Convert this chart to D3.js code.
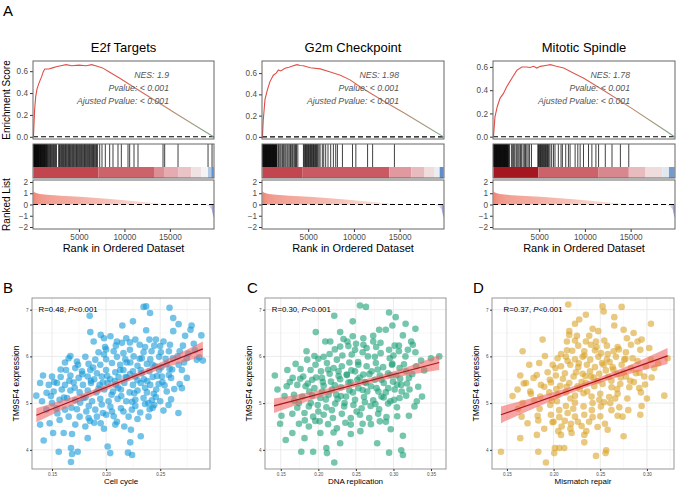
<!DOCTYPE html>
<html>
<head>
<meta charset="utf-8">
<script src="https://cdn.jsdelivr.net/npm/d3@7"></script>
<style>
  body { margin: 0; background: #fff; }
  text { font-family: "Liberation Sans", Arial, Helvetica, sans-serif; }
</style>
</head>
<body>
<svg id="fig" width="676" height="487"></svg>
<script>
// ---------- GSEA data (panel A) ----------
const gseaTitles = ["E2f Targets", "G2m Checkpoint", "Mitotic Spindle"];
const gseaNES = ["1.9", "1.98", "1.78"];
const gseaPvalue = ["< 0.001", "< 0.001", "< 0.001"];
const gseaPadj = ["< 0.001", "< 0.001", "< 0.001"];
const nGenes = 19800;
const rankTicks = [5000, 10000, 15000];
const esTicks = [0, 0.2, 0.4, 0.6];
const rlTicks = [-2, -1, 0, 1, 2];

// running enrichment score [rank, ES]
const esE2f = [[0,0],[60,0.12],[130,0.25],[250,0.37],[400,0.44],[650,0.5],[900,0.55],[1100,0.6],[1250,0.62],[1700,0.62],[2100,0.63],[2500,0.64],[3000,0.65],[3600,0.66],[4200,0.65],[5000,0.655],[5800,0.65],[6400,0.66],[7000,0.645],[7600,0.63],[8200,0.6],[9500,0.535],[11000,0.455],[13500,0.325],[16000,0.195],[18000,0.092],[19800,0]];
const esG2m = [[0,0],[80,0.15],[275,0.35],[530,0.44],[820,0.52],[1190,0.58],[1500,0.6],[1740,0.63],[2000,0.62],[2470,0.645],[2900,0.655],[3210,0.665],[3600,0.675],[3820,0.68],[4100,0.672],[4480,0.67],[5220,0.65],[6320,0.64],[7420,0.61],[8520,0.58],[9620,0.534],[10710,0.47],[13000,0.35],[15500,0.225],[17800,0.105],[19800,0]];
const esMit = [[0,0],[165,0.17],[420,0.26],[715,0.33],[1080,0.37],[1450,0.43],[2000,0.5],[2550,0.57],[3100,0.6],[3650,0.6],[4000,0.595],[4380,0.605],[4750,0.59],[5115,0.605],[5850,0.615],[6215,0.62],[6765,0.608],[7680,0.59],[8780,0.546],[9880,0.503],[12500,0.375],[15000,0.25],[17500,0.12],[19800,0]];

// gene-set hit ranks
const hitsE2f = [10,45,80,120,150,190,230,260,300,340,380,410,450,490,530,570,600,640,690,730,770,810,850,900,940,980,1030,1070,1120,1160,1210,1250,1300,1350,1400,1450,1500,1560,1640,1720,1790,1880,1950,2030,2120,2190,2280,2360,2440,2530,2770,2860,2940,3030,3110,3180,3280,3350,3440,3530,3610,3700,3790,3870,3960,4050,4130,4220,4310,4390,4480,4570,4660,4740,4830,4920,5010,5090,5190,5270,5360,5450,5540,5620,5710,5800,5890,5970,6070,6150,6240,6330,6410,6500,6600,6680,6770,6860,6940,7050,7282,7535,7902,8378,8745,9295,9662,10395,10578,11055,11495,14245,14428,15895,19195,19635];
const hitsG2m = [10,50,90,130,170,210,250,290,330,370,410,450,490,530,570,610,650,690,730,770,810,850,890,930,970,1010,1050,1090,1130,1170,1210,1250,1290,1330,1370,1410,1450,1490,1530,1570,1700,1778,1900,2010,2145,2230,2328,2450,2560,2695,2800,2930,3062,3150,3280,3428,3530,3622,3722,3868,4480,4560,4640,4712,4800,4870,4950,5030,5110,5190,5262,5350,5420,5500,5580,5660,5740,5812,5900,5980,6060,6178,6300,6545,6700,6912,7168,7462,7755,8012,8195,8745,9845,10212,11495,12045,14428];
const hitsMit = [10,50,90,130,170,210,250,290,330,370,410,450,490,530,570,610,650,690,730,770,810,850,890,930,970,1010,1050,1090,1130,1170,1210,1250,1290,1330,1370,1410,1450,1490,1530,1570,1620,1680,1740,1962,2100,2210,2328,2480,2580,2695,2810,2952,3080,3245,3380,3502,3650,3795,3950,4162,4850,4930,5010,5078,5150,5230,5300,5380,5445,5520,5600,5680,5750,5830,5900,5980,6060,6178,6362,6560,6728,7095,7388,7535,7902,8195,8378,8928,9222,9478,9845,10395,10762,11202,11495,12228,12962,13878,14795];

// colour band under the hits: [start rank, mean ranked value]
const bandE2f = [[0,1.0],[7150,0.85],[13330,0.6],[14430,0.45],[15900,0.3],[17360,0.12],[18460,0.0],[19190,-0.35],[19560,-0.8]];
const bandG2m = [[0,1.0],[4400,0.9],[13878,0.55],[16262,0.35],[17728,0.15],[18828,-0.05],[19378,-0.8]];
const bandMit = [[0,1.4],[4900,0.85],[11500,0.65],[14800,0.35],[16630,0.15],[18460,-0.1],[19190,-0.7]];

// ranked list metric [rank, value]
const rankedList = [[0,1.2],[100,1.1],[300,1.02],[700,0.94],[1500,0.86],[3000,0.77],[5100,0.68],[7000,0.57],[8400,0.49],[10000,0.37],[11700,0.25],[13000,0.15],[14500,0.07],[16000,0.03],[17500,0.0],[18800,-0.05],[19300,-0.15],[19600,-0.45],[19800,-1.2]];

// ---------- correlation data (panels B-D) ----------
const scatterLetters = ["B", "C", "D"];
const scatterXLabels = ["Cell cycle", "DNA replication", "Mismatch repair"];
const scatterR = ["0.48", "0.30", "0.37"];
const scatterXTicks = [[0.15,0.20,0.25],[0.15,0.20,0.25,0.30,0.35],[0.15,0.20,0.25,0.30]];
const scatterXDomains = [[0.1315,0.296],[0.129,0.37],[0.134,0.329]];
const scatterYTicks = [4, 5, 6, 7];

const cellCycle = [[0.2346,7.06],[0.237,7.07],[0.2406,6.93],[0.2586,7.04],[0.1848,6.87],[0.262,6.82],[0.267,6.69],[0.279,6.66],[0.2248,6.75],[0.215,6.66],[0.237,6.56],[0.1854,6.52],[0.262,6.54],[0.278,6.57],[0.273,6.44],[0.288,6.45],[0.195,6.46],[0.198,6.39],[0.204,6.43],[0.21,6.32],[0.2186,6.39],[0.227,6.36],[0.24,6.36],[0.246,6.36],[0.253,6.32],[0.1885,6.32],[0.2146,6.29],[0.231,6.25],[0.2445,6.23],[0.259,6.25],[0.271,6.23],[0.281,6.27],[0.199,6.2],[0.207,6.11],[0.222,6.14],[0.193,6.09],[0.198,6.04],[0.216,6.07],[0.2346,6.09],[0.242,6.11],[0.2506,6.09],[0.258,6.11],[0.268,6.11],[0.167,6.01],[0.1654,5.96],[0.1808,5.99],[0.19,5.93],[0.2,5.94],[0.21,5.99],[0.2177,5.94],[0.2254,6.0],[0.233,5.96],[0.2408,5.94],[0.249,5.99],[0.2617,5.96],[0.2746,5.96],[0.2838,5.93],[0.2894,5.91],[0.162,5.87],[0.173,5.89],[0.1838,5.84],[0.1946,5.82],[0.2054,5.86],[0.213,5.82],[0.2223,5.87],[0.229,5.8],[0.2377,5.84],[0.2454,5.79],[0.256,5.84],[0.267,5.82],[0.163,5.71],[0.1715,5.75],[0.1777,5.68],[0.1854,5.71],[0.1915,5.64],[0.2,5.71],[0.2085,5.66],[0.216,5.71],[0.2248,5.68],[0.232,5.71],[0.24,5.68],[0.249,5.71],[0.2586,5.73],[0.27,5.71],[0.2746,5.54],[0.1417,5.59],[0.15,5.57],[0.158,5.56],[0.167,5.59],[0.1746,5.54],[0.183,5.57],[0.189,5.51],[0.196,5.57],[0.2038,5.51],[0.2115,5.56],[0.219,5.54],[0.227,5.57],[0.235,5.51],[0.243,5.56],[0.2515,5.57],[0.26,5.54],[0.139,5.43],[0.147,5.39],[0.1546,5.43],[0.162,5.39],[0.17,5.44],[0.1786,5.39],[0.186,5.43],[0.194,5.39],[0.2014,5.43],[0.209,5.39],[0.2168,5.43],[0.2248,5.39],[0.232,5.43],[0.2408,5.39],[0.2485,5.41],[0.27,5.32],[0.1355,5.16],[0.1515,5.25],[0.159,5.29],[0.167,5.27],[0.1755,5.23],[0.183,5.27],[0.191,5.23],[0.1983,5.29],[0.2063,5.25],[0.2137,5.29],[0.2217,5.23],[0.229,5.27],[0.2377,5.23],[0.2463,5.29],[0.256,5.25],[0.1408,5.04],[0.15,5.0],[0.157,5.07],[0.1638,5.11],[0.1715,5.06],[0.179,5.11],[0.187,5.04],[0.1946,5.09],[0.2023,5.04],[0.2106,5.09],[0.2186,5.04],[0.227,5.07],[0.2346,5.11],[0.2423,5.06],[0.25,5.04],[0.2577,4.96],[0.268,5.41],[0.1448,4.86],[0.154,4.89],[0.162,4.86],[0.173,4.87],[0.1817,4.82],[0.19,4.86],[0.197,4.79],[0.2054,4.82],[0.2137,4.89],[0.2238,4.86],[0.2315,4.8],[0.2402,4.87],[0.2445,4.96],[0.2668,4.79],[0.139,4.54],[0.1478,4.57],[0.157,4.64],[0.1654,4.71],[0.1755,4.71],[0.1838,4.68],[0.1915,4.71],[0.2,4.75],[0.2208,4.71],[0.229,4.66],[0.2392,4.71],[0.1715,4.54],[0.1808,4.5],[0.2085,4.54],[0.2168,4.5],[0.2229,4.43],[0.151,4.36],[0.1608,4.36],[0.1685,4.34],[0.183,4.25],[0.232,4.29],[0.1423,4.2],[0.2223,4.16],[0.1562,3.96],[0.1737,3.96],[0.1675,4.04],[0.1685,3.91],[0.2014,4.07],[0.2038,3.93],[0.2202,3.94],[0.224,3.89],[0.1675,3.74],
  [0.178,5.62],[0.186,5.48],[0.193,5.31],[0.201,5.58],[0.208,5.47],[0.214,5.15],[0.222,5.62],[0.229,5.49],[0.236,5.33],[0.243,5.82],[0.252,5.45],[0.261,5.72],[0.171,5.33],[0.176,5.01],[0.184,4.94],[0.196,4.97],[0.205,5.18],[0.213,5.71],[0.219,5.87],[0.226,5.21],[0.233,5.64],[0.239,5.0],[0.247,5.58],[0.255,5.95],[0.263,5.3],[0.166,5.48],[0.181,5.12],[0.188,5.76],[0.197,5.44],[0.204,4.92],[0.211,5.33],[0.218,5.56],[0.224,5.03],[0.231,5.95],[0.238,5.47],[0.244,5.2],[0.251,5.77],[0.258,5.6],[0.266,6.0],[0.174,5.82],[0.161,5.12],[0.168,4.9],[0.185,4.62],[0.195,4.57],[0.207,4.72],[0.216,4.82],[0.227,4.94],[0.236,4.98],[0.246,5.13],[0.254,5.38],[0.272,5.87],[0.276,6.06],[0.282,6.13],[0.286,5.98],[0.2,6.15],[0.209,6.23],[0.222,6.3],[0.236,6.2],[0.25,6.22],[0.158,5.72],[0.152,5.45],[0.145,5.22],[0.155,4.78],[0.149,5.15],[0.21,4.6],[0.198,4.45],[0.189,4.58],[0.243,4.9],[0.253,4.84],[0.26,5.08]];

const dnaReplication = [[0.2555,7.09],[0.2634,7.06],[0.2942,6.94],[0.2212,6.87],[0.303,6.84],[0.2458,6.75],[0.3162,6.7],[0.2986,6.66],[0.281,6.57],[0.2898,6.57],[0.1966,6.52],[0.2291,6.52],[0.3293,6.59],[0.2731,6.44],[0.2458,6.43],[0.3126,6.45],[0.2599,6.39],[0.2335,6.37],[0.2388,6.32],[0.2093,6.32],[0.2159,6.32],[0.2502,6.27],[0.2731,6.32],[0.2828,6.29],[0.3016,6.23],[0.3236,6.32],[0.3258,6.25],[0.2291,6.21],[0.2489,6.14],[0.2643,6.18],[0.2942,6.14],[0.3073,6.23],[0.1843,6.11],[0.1948,6.01],[0.2071,5.99],[0.2247,5.93],[0.2445,6.04],[0.259,6.09],[0.2753,5.99],[0.2951,5.96],[0.3073,6.11],[0.3192,6.14],[0.3293,6.09],[0.3368,5.91],[0.35,5.96],[0.361,6.0],[0.1698,5.84],[0.1852,5.93],[0.1962,5.82],[0.2115,5.86],[0.2203,5.75],[0.2313,5.79],[0.2414,5.87],[0.2533,5.82],[0.2643,5.79],[0.2766,5.86],[0.2863,5.77],[0.2986,5.84],[0.3082,5.75],[0.317,5.68],[0.3302,5.79],[0.1588,5.71],[0.1764,5.73],[0.1896,5.71],[0.2036,5.68],[0.2151,5.63],[0.2269,5.68],[0.2379,5.61],[0.2489,5.68],[0.2599,5.61],[0.2709,5.68],[0.2819,5.59],[0.2929,5.64],[0.3038,5.59],[0.3206,5.54],[0.1421,5.59],[0.1658,5.54],[0.1799,5.57],[0.1918,5.5],[0.2049,5.54],[0.2168,5.46],[0.2291,5.51],[0.2401,5.44],[0.252,5.5],[0.2634,5.43],[0.2753,5.5],[0.2871,5.43],[0.2994,5.46],[0.3104,5.39],[0.3214,5.29],[0.1579,5.36],[0.172,5.39],[0.183,5.36],[0.1948,5.32],[0.2071,5.37],[0.2181,5.29],[0.23,5.34],[0.2414,5.27],[0.2533,5.32],[0.2652,5.25],[0.2775,5.32],[0.2898,5.23],[0.3016,5.29],[0.317,5.16],[0.1456,5.29],[0.1676,5.18],[0.1786,5.14],[0.1918,5.16],[0.2027,5.11],[0.2137,5.18],[0.2256,5.09],[0.237,5.14],[0.2489,5.07],[0.2608,5.13],[0.2731,5.06],[0.2841,5.14],[0.2959,5.04],[0.3082,5.11],[0.3381,5.14],[0.1742,5.0],[0.1874,4.93],[0.1992,4.96],[0.2107,4.91],[0.2225,4.99],[0.2344,4.93],[0.2467,4.96],[0.2577,4.89],[0.2696,4.94],[0.281,4.87],[0.2929,4.99],[0.3047,4.91],[0.3311,5.04],[0.328,4.93],[0.1509,4.73],[0.1654,4.77],[0.1816,4.79],[0.1931,4.71],[0.2071,4.75],[0.2194,4.68],[0.2313,4.77],[0.2432,4.68],[0.2555,4.75],[0.2678,4.68],[0.2797,4.77],[0.2907,4.7],[0.3206,4.73],[0.1491,4.56],[0.1742,4.56],[0.1874,4.5],[0.2019,4.61],[0.2247,4.46],[0.2432,4.54],[0.259,4.56],[0.2819,4.61],[0.2964,4.44],[0.1654,4.36],[0.1816,4.25],[0.2027,4.36],[0.2203,4.37],[0.2432,4.34],[0.2784,4.14],[0.3126,4.3],[0.1566,4.21],[0.2291,4.14],[0.1773,3.96],[0.1931,3.96],[0.2107,4.04],[0.2115,3.93],[0.2942,3.94],[0.3104,3.99],[0.3126,3.89],[0.2212,3.73],
  [0.186,5.42],[0.197,5.55],[0.205,5.25],[0.213,5.72],[0.222,5.38],[0.23,5.15],[0.238,5.6],[0.246,5.23],[0.255,5.55],[0.262,5.02],[0.27,5.36],[0.279,5.72],[0.287,5.12],[0.296,5.6],[0.305,5.4],[0.314,5.83],[0.19,5.0],[0.2,4.82],[0.21,5.08],[0.218,4.85],[0.227,5.58],[0.235,5.0],[0.243,5.45],[0.251,4.82],[0.259,5.28],[0.268,5.62],[0.276,4.98],[0.284,5.5],[0.293,5.32],[0.301,5.07],[0.309,5.52],[0.318,5.42],[0.325,5.62],[0.333,5.35],[0.341,5.7],[0.176,5.52],[0.168,5.05],[0.182,4.63],[0.196,4.62],[0.213,4.55],[0.236,4.58],[0.256,4.4],[0.27,4.55],[0.29,4.6],[0.305,4.72],[0.2,5.95],[0.215,6.05],[0.232,6.02],[0.253,5.88],[0.266,6.0],[0.283,6.07],[0.3,6.02],[0.316,6.0],[0.222,6.15],[0.24,6.22],[0.26,6.25],[0.277,6.2],[0.162,5.45],[0.155,5.15],[0.172,4.9],[0.188,5.25],[0.206,5.45],[0.224,5.18],[0.244,5.7],[0.262,5.45],[0.28,5.25],[0.298,5.82],[0.311,5.25]];

const mismatchRepair = [[0.2157,7.11],[0.2525,7.07],[0.2536,6.96],[0.2729,7.06],[0.2346,6.89],[0.265,6.84],[0.3043,6.7],[0.2275,6.79],[0.2229,6.7],[0.2168,6.54],[0.2418,6.59],[0.2479,6.54],[0.265,6.66],[0.275,6.57],[0.2857,6.5],[0.2168,6.46],[0.225,6.44],[0.2382,6.44],[0.1882,6.36],[0.2143,6.32],[0.2229,6.34],[0.2346,6.32],[0.2454,6.32],[0.2543,6.34],[0.2786,6.39],[0.29,6.32],[0.2943,6.36],[0.2264,6.23],[0.24,6.25],[0.2571,6.23],[0.2686,6.2],[0.2829,6.25],[0.3025,6.18],[0.1668,6.11],[0.2143,6.13],[0.2329,6.11],[0.2443,6.13],[0.2507,6.07],[0.2643,6.11],[0.2775,6.09],[0.2929,6.14],[0.1907,6.01],[0.2043,5.96],[0.2132,5.99],[0.2229,5.94],[0.2311,5.99],[0.2393,5.93],[0.2479,5.99],[0.2571,5.94],[0.2668,5.99],[0.2757,5.93],[0.2846,5.96],[0.3043,5.93],[0.3221,5.96],[0.1739,5.82],[0.1846,5.86],[0.199,5.82],[0.2079,5.79],[0.2179,5.82],[0.2264,5.77],[0.2357,5.82],[0.2443,5.77],[0.2536,5.82],[0.2632,5.77],[0.2729,5.82],[0.2829,5.75],[0.2989,5.79],[0.3079,5.75],[0.1643,5.59],[0.1786,5.54],[0.1936,5.66],[0.2025,5.59],[0.2121,5.64],[0.2214,5.57],[0.2311,5.63],[0.24,5.57],[0.2489,5.63],[0.2586,5.56],[0.2679,5.63],[0.2775,5.57],[0.2882,5.64],[0.2971,5.57],[0.1704,5.43],[0.1864,5.39],[0.1971,5.44],[0.2071,5.37],[0.2168,5.43],[0.2257,5.36],[0.2346,5.43],[0.2436,5.36],[0.2525,5.41],[0.2621,5.34],[0.2714,5.41],[0.2811,5.34],[0.2918,5.32],[0.1614,5.29],[0.1757,5.2],[0.1857,5.14],[0.1954,5.23],[0.2043,5.18],[0.2132,5.23],[0.2229,5.16],[0.2321,5.21],[0.2407,5.14],[0.25,5.2],[0.2596,5.13],[0.2686,5.2],[0.2936,5.23],[0.3186,5.16],[0.1668,5.0],[0.1793,5.06],[0.1964,4.96],[0.2036,5.04],[0.2132,4.94],[0.2229,5.01],[0.2321,4.93],[0.2418,5.0],[0.2507,4.93],[0.2607,5.0],[0.2704,4.91],[0.2943,4.94],[0.1657,4.71],[0.1829,4.73],[0.1971,4.75],[0.2061,4.7],[0.215,4.79],[0.2229,4.71],[0.2329,4.75],[0.2418,4.7],[0.2686,4.73],[0.2739,4.71],[0.2929,4.75],[0.1721,4.57],[0.1836,4.63],[0.1989,4.59],[0.2086,4.5],[0.2186,4.56],[0.23,4.51],[0.2471,4.49],[0.255,4.56],[0.2579,4.43],[0.1643,4.25],[0.1821,4.32],[0.2079,4.32],[0.2193,4.36],[0.2329,4.32],[0.2329,4.16],[0.275,4.29],[0.1436,3.96],[0.1836,3.96],[0.2014,4.04],[0.2007,3.93],[0.2061,4.04],[0.2114,4.04],[0.2454,3.87],[0.2564,3.99],[0.2557,3.93],[0.1918,3.73],
  [0.196,5.5],[0.203,5.3],[0.21,5.52],[0.218,5.1],[0.224,5.66],[0.23,5.45],[0.236,5.25],[0.243,5.55],[0.249,5.07],[0.256,5.7],[0.262,5.48],[0.268,5.3],[0.275,5.66],[0.282,5.48],[0.19,5.35],[0.198,5.05],[0.206,4.85],[0.214,5.35],[0.221,4.88],[0.228,5.3],[0.234,5.58],[0.241,4.85],[0.247,5.47],[0.254,5.02],[0.26,5.88],[0.266,5.1],[0.272,5.55],[0.279,5.1],[0.286,5.45],[0.292,5.65],[0.298,5.4],[0.305,5.55],[0.312,5.85],[0.202,5.75],[0.215,5.9],[0.227,5.85],[0.239,5.68],[0.252,5.86],[0.264,5.72],[0.277,5.95],[0.29,5.9],[0.208,6.05],[0.22,6.12],[0.233,6.02],[0.246,6.2],[0.258,6.05],[0.27,6.15],[0.182,5.6],[0.175,5.25],[0.168,5.42],[0.185,4.88],[0.2,4.6],[0.212,4.62],[0.226,4.6],[0.238,4.6],[0.25,4.72],[0.262,4.85],[0.28,4.85],[0.3,5.1],[0.156,5.15],[0.162,4.88],[0.19,4.45],[0.205,4.4],[0.218,4.45],[0.235,4.4]];

// fitted line [x, y] ends and confidence band [x, lower, upper]
const fitB = [[0.1355,4.74],[0.2894,6.16]];
const fitC = [[0.141,4.94],[0.361,5.87]];
const fitD = [[0.1436,4.75],[0.3221,6.01]];
const ciB = [[0.1355,4.59,4.89],[0.17,4.97,5.14],[0.21,5.37,5.48],[0.25,5.72,5.87],[0.2894,6.0,6.32]];
const ciC = [[0.141,4.79,5.1],[0.19,5.06,5.24],[0.25,5.35,5.46],[0.31,5.57,5.73],[0.361,5.71,6.03]];
const ciD = [[0.1436,4.57,4.93],[0.19,4.98,5.18],[0.235,5.34,5.45],[0.28,5.62,5.8],[0.3221,5.84,6.18]];

// ---------- drawing ----------
const svg = d3.select("#fig");
const defs = svg.append("defs");
const tickGrey = "#4d4d4d";

svg.append("text").attr("x", 3).attr("y", 16).attr("font-size", 15).text("A");

const esTop = 61, esBot = 139, hitTop = 144, hitBot = 178, bandTop = 167, rlTop = 180, rlBot = 229;
const gseaPanels = [
  {x0: 33, x1: 214, es: esE2f, hits: hitsE2f, band: bandE2f},
  {x0: 262, x1: 444, es: esG2m, hits: hitsG2m, band: bandG2m},
  {x0: 493, x1: 675, es: esMit, hits: hitsMit, band: bandMit}
];

const bandColor = d3.scaleLinear()
  .domain([-1, 0, 0.5, 1, 1.5])
  .range(["#3a75c0", "#f4f4f4", "#e3a3a8", "#c24650", "#9c0a14"]);
const rlColor = d3.scaleLinear()
  .domain([-1.2, 0, 1.2])
  .range(["#6a78c8", "#fdf0ec", "#ee7f6e"]);

function styleAxis(g, size) {
  g.select(".domain").remove();
  g.selectAll(".tick line").attr("stroke", "#333");
  g.selectAll(".tick text").attr("fill", tickGrey).attr("font-size", size)
    .attr("font-family", '"Liberation Sans", Arial, sans-serif');
}

gseaPanels.forEach((p, i) => {
  const g = svg.append("g");
  const x = d3.scaleLinear().domain([-50, nGenes + 50]).range([p.x0, p.x1]);
  const yEs = d3.scaleLinear().domain([-0.02, d3.max(p.es, d => d[1]) * 1.05]).range([esBot, esTop]);
  const yRl = d3.scaleLinear().domain([-2.18, 2.18]).range([rlBot, rlTop]);
  const cx = (p.x0 + p.x1) / 2;

  g.append("text").attr("x", cx).attr("y", 52).attr("text-anchor", "middle")
    .attr("font-size", 13).text(gseaTitles[i]);

  // running ES line, coloured from red to grey-green
  const gid = "esgrad" + i;
  const lg = defs.append("linearGradient").attr("id", gid)
    .attr("gradientUnits", "userSpaceOnUse")
    .attr("x1", p.x0).attr("x2", p.x1).attr("y1", 0).attr("y2", 0);
  [[0, "#e04b45"], [0.5, "#dc5a4e"], [0.72, "#c58067"], [0.88, "#a79a80"], [1, "#76a98c"]]
    .forEach(s => lg.append("stop").attr("offset", s[0]).attr("stop-color", s[1]));

  g.append("line").attr("x1", p.x0).attr("x2", p.x1).attr("y1", yEs(0)).attr("y2", yEs(0))
    .attr("stroke", "#000").attr("stroke-width", 1.1).attr("stroke-dasharray", "5,3");
  g.append("path").datum(p.es)
    .attr("d", d3.line().x(d => x(d[0])).y(d => yEs(d[1])))
    .attr("fill", "none").attr("stroke", `url(#${gid})`).attr("stroke-width", 1.1);

  const tx = p.x1 - 45;
  [["NES: " + gseaNES[i], 78], ["Pvalue: " + gseaPvalue[i], 91], ["Ajusted Pvalue: " + gseaPadj[i], 103.5]]
    .forEach(t => g.append("text").attr("x", tx).attr("y", t[1]).attr("text-anchor", "end")
      .attr("font-style", "italic").attr("font-size", 8.7).attr("fill", "#555").text(t[0]));

  g.append("g").attr("transform", `translate(${p.x0},0)`)
    .call(d3.axisLeft(yEs).tickValues(esTicks).tickSize(3).tickPadding(2).tickFormat(d3.format(".1f")))
    .call(a => styleAxis(a, 8.2));

  // hit lines and colour band
  g.selectAll("rect.band").data(p.band).join("rect")
    .attr("x", d => x(d[0]))
    .attr("width", (d, j) => x(j + 1 < p.band.length ? p.band[j + 1][0] : nGenes) - x(d[0]))
    .attr("y", bandTop).attr("height", hitBot - bandTop)
    .attr("fill", d => bandColor(d[1]));
  g.selectAll("line.hit").data(p.hits).join("line")
    .attr("x1", d => x(d)).attr("x2", d => x(d))
    .attr("y1", hitTop).attr("y2", bandTop)
    .attr("stroke", "#000").attr("stroke-width", 0.75);

  // ranked list
  const rid = "rlgrad" + i;
  const rg = defs.append("linearGradient").attr("id", rid)
    .attr("gradientUnits", "userSpaceOnUse")
    .attr("x1", x(0)).attr("x2", x(nGenes)).attr("y1", 0).attr("y2", 0);
  rankedList.forEach(d => rg.append("stop").attr("offset", d[0] / nGenes).attr("stop-color", rlColor(d[1])));
  g.append("path").datum(rankedList)
    .attr("d", d3.area().x(d => x(d[0])).y0(yRl(0)).y1(d => yRl(d[1])))
    .attr("fill", `url(#${rid})`);
  g.append("line").attr("x1", p.x0).attr("x2", p.x1).attr("y1", yRl(0)).attr("y2", yRl(0))
    .attr("stroke", "#000").attr("stroke-width", 1.1).attr("stroke-dasharray", "5,3");

  g.append("g").attr("transform", `translate(${p.x0},0)`)
    .call(d3.axisLeft(yRl).tickValues(rlTicks).tickSize(3).tickPadding(2).tickFormat(d3.format("d")))
    .call(a => styleAxis(a, 8.2));
  g.append("g").attr("transform", `translate(0,${rlBot})`)
    .call(d3.axisBottom(x).tickValues(rankTicks).tickSize(3).tickPadding(2).tickFormat(d3.format("d")))
    .call(a => styleAxis(a, 8.2));

  g.append("text").attr("x", cx).attr("y", 252).attr("text-anchor", "middle")
    .attr("font-size", 11).text("Rank in Ordered Dataset");

  // frames
  [[esTop, esBot], [hitTop, hitBot], [rlTop, rlBot]].forEach(b =>
    g.append("rect").attr("x", p.x0).attr("y", b[0]).attr("width", p.x1 - p.x0).attr("height", b[1] - b[0])
      .attr("fill", "none").attr("stroke", "#666").attr("stroke-width", 1));

  if (i === 0) {
    g.append("text").attr("transform", `translate(10,${(esTop + esBot) / 2}) rotate(-90)`)
      .attr("text-anchor", "middle").attr("font-size", 10).text("Enrichment Score");
    g.append("text").attr("transform", `translate(10,${(rlTop + rlBot) / 2}) rotate(-90)`)
      .attr("text-anchor", "middle").attr("font-size", 10).text("Ranked List");
  }
});

// ---------- scatter panels ----------
const scTop = 298, scBot = 469;
const scatterPanels = [
  {x0: 32, x1: 210, lab: 3, data: cellCycle, fit: fitB, ci: ciB, color: "#159ad8", ann: 0.1376},
  {x0: 265, x1: 446, lab: 247, data: dnaReplication, fit: fitC, ci: ciC, color: "#1b9e77", ann: 0.138},
  {x0: 492, x1: 674, lab: 473, data: mismatchRepair, fit: fitD, ci: ciD, color: "#dba42a", ann: 0.1464}
];

scatterPanels.forEach((p, i) => {
  const g = svg.append("g");
  const x = d3.scaleLinear().domain(scatterXDomains[i]).range([p.x0, p.x1]);
  const y = d3.scaleLinear().domain([3.59, 7.25]).range([scBot, scTop]);

  g.append("text").attr("x", p.lab).attr("y", 293).attr("font-size", 15).text(scatterLetters[i]);

  // grid
  const xt = scatterXTicks[i];
  const xMinor = xt.map(v => v - 0.025).concat([xt[xt.length - 1] + 0.025])
    .filter(v => v > scatterXDomains[i][0] && v < scatterXDomains[i][1]);
  const yMinor = [3.5, 4.5, 5.5, 6.5, 7.5].filter(v => v > 3.59 && v < 7.25);
  g.selectAll("line.gxm").data(xMinor).join("line")
    .attr("x1", d => x(d)).attr("x2", d => x(d)).attr("y1", scTop).attr("y2", scBot)
    .attr("stroke", "#f3f3f3").attr("stroke-width", 0.6);
  g.selectAll("line.gym").data(yMinor).join("line")
    .attr("x1", p.x0).attr("x2", p.x1).attr("y1", d => y(d)).attr("y2", d => y(d))
    .attr("stroke", "#f3f3f3").attr("stroke-width", 0.6);
  g.selectAll("line.gx").data(xt).join("line")
    .attr("x1", d => x(d)).attr("x2", d => x(d)).attr("y1", scTop).attr("y2", scBot)
    .attr("stroke", "#e6e6e6").attr("stroke-width", 0.8);
  g.selectAll("line.gy").data(scatterYTicks).join("line")
    .attr("x1", p.x0).attr("x2", p.x1).attr("y1", d => y(d)).attr("y2", d => y(d))
    .attr("stroke", "#e6e6e6").attr("stroke-width", 0.8);

  g.selectAll("circle").data(p.data).join("circle")
    .attr("cx", d => x(d[0])).attr("cy", d => y(d[1])).attr("r", 3.3)
    .attr("fill", p.color).attr("fill-opacity", 0.6);

  g.append("path").datum(p.ci)
    .attr("d", d3.area().x(d => x(d[0])).y0(d => y(d[1])).y1(d => y(d[2])).curve(d3.curveMonotoneX))
    .attr("fill", "#f26868").attr("fill-opacity", 0.6);
  g.append("path").datum(p.fit)
    .attr("d", d3.line().x(d => x(d[0])).y(d => y(d[1])))
    .attr("stroke", "#a8161c").attr("stroke-width", 1.2).attr("fill", "none");

  g.append("rect").attr("x", p.x0).attr("y", scTop).attr("width", p.x1 - p.x0).attr("height", scBot - scTop)
    .attr("fill", "none").attr("stroke", "#8c8c8c").attr("stroke-width", 0.9);

  g.append("g").attr("transform", `translate(0,${scBot})`)
    .call(d3.axisBottom(x).tickValues(xt).tickSize(2).tickPadding(1.5).tickFormat(d3.format(".2f")))
    .call(a => styleAxis(a, 4.6));
  g.append("g").attr("transform", `translate(${p.x0},0)`)
    .call(d3.axisLeft(y).tickValues(scatterYTicks).tickSize(2).tickPadding(1.5).tickFormat(d3.format("d")))
    .call(a => styleAxis(a, 4.6));

  const t = g.append("text").attr("x", x(p.ann)).attr("y", 311.5).attr("font-size", 7.8);
  t.append("tspan").text("R=" + scatterR[i] + ", ");
  t.append("tspan").attr("font-style", "italic").text("P");
  t.append("tspan").text("<0.001");

  g.append("text").attr("x", (p.x0 + p.x1) / 2).attr("y", 484).attr("text-anchor", "middle")
    .attr("font-size", 8).text(scatterXLabels[i]);
  g.append("text").attr("transform", `translate(${p.x0 - 13},${(scTop + scBot) / 2}) rotate(-90)`)
    .attr("text-anchor", "middle").attr("font-size", 8.5).text("TM9SF4 expression");
});
</script>
</body>
</html>
